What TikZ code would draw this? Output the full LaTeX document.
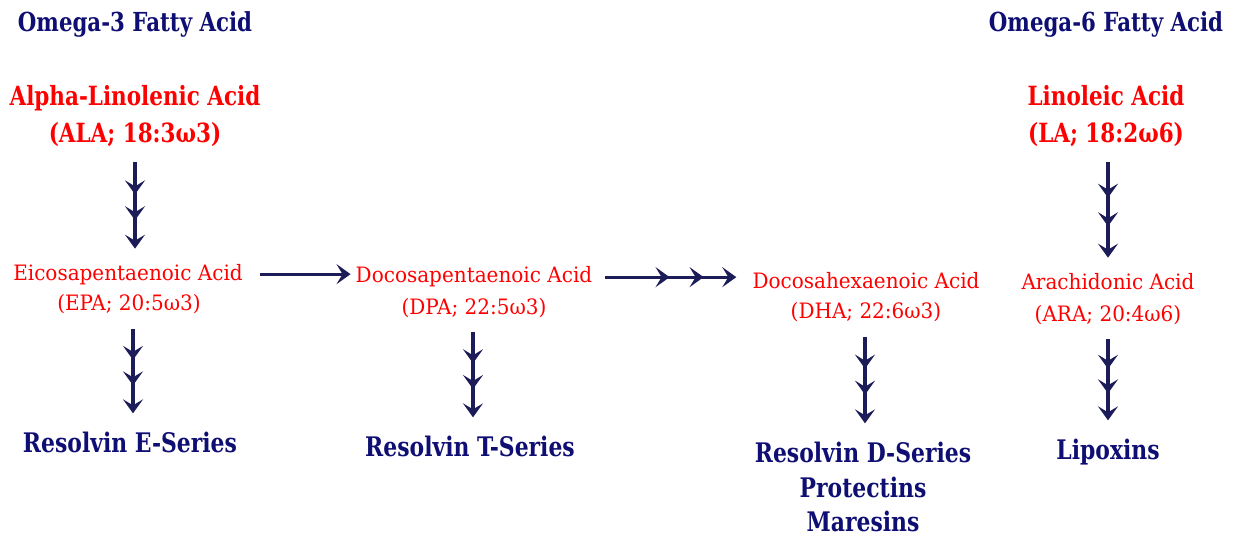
\documentclass[tikz,border=0pt]{standalone}
\usepackage{fontspec}
\usepackage{graphicx}
\setmainfont{DejaVu Serif}
\usetikzlibrary{arrows.meta,decorations.markings,calc}
\definecolor{navytext}{RGB}{15,15,115}
\definecolor{arrowcol}{RGB}{28,28,88}
\definecolor{redtext}{RGB}{255,0,0}
\newcommand\vsbig[1]{\scalebox{1}[1.23]{#1}}
\newcommand\vssmall[1]{\scalebox{1}[1.06]{#1}}
\begin{document}
\begin{tikzpicture}[x=1pt,y=-1pt,
  lbl/.style={inner sep=0pt, anchor=base},
  headtxt/.style={lbl, text=navytext, font=\bfseries\fontsize{21.3}{24}\selectfont},
  bigred/.style={lbl, text=redtext, font=\bfseries\fontsize{21.5}{26}\selectfont},
  smallred/.style={lbl, text=redtext, font=\fontsize{20}{23}\selectfont},
  prodtxt/.style={lbl, text=navytext, font=\bfseries\fontsize{21.9}{26}\selectfont},
  conn/.style={draw=arrowcol, line width=3.2pt,
    -{Stealth[length=14pt,width=20pt,inset=6pt]}},
  midtip/.style 2 args={postaction={decorate}, decoration={markings,
    mark=at position #1 with {\arrow{Stealth[length=14pt,width=20pt,inset=6pt]}},
    mark=at position #2 with {\arrow{Stealth[length=14pt,width=20pt,inset=6pt]}}}},
  tri/.style={conn, midtip={0.37}{0.67}}
]
\useasboundingbox (0,0) rectangle (1243,540);

% headings
\node[headtxt] (om3) at (135,32) {\vsbig{Omega-3 Fatty Acid}};
\node[headtxt] (om6) at (1106,32) {\vsbig{Omega-6 Fatty Acid}};

% precursors
\node[bigred] (ala1) at (135,106) {\vsbig{Alpha-Linolenic Acid}};
\node[bigred] (ala2) at (135,143) {\vsbig{(ALA; 18:3ω3)}};
\node[bigred] (la1) at (1106,106) {\vsbig{Linoleic Acid}};
\node[bigred] (la2) at (1106,143) {\vsbig{(LA; 18:2ω6)}};

% intermediates
\node[smallred] (epa1) at (128,280) {\vssmall{Eicosapentaenoic Acid}};
\node[smallred] (epa2) at (129,311) {\vssmall{(EPA; 20:5ω3)}};
\node[smallred] (dpa1) at (474,283) {\vssmall{Docosapentaenoic Acid}};
\node[smallred] (dpa2) at (474,314) {\vssmall{(DPA; 22:5ω3)}};
\node[smallred] (dha1) at (866,288) {\vssmall{Docosahexaenoic Acid}};
\node[smallred] (dha2) at (866,319) {\vssmall{(DHA; 22:6ω3)}};
\node[smallred] (ara1) at (1108,290) {\vssmall{Arachidonic Acid}};
\node[smallred] (ara2) at (1108,321) {\vssmall{(ARA; 20:4ω6)}};

% products
\node[prodtxt] (rese) at (130,452) {\vsbig{Resolvin E-Series}};
\node[prodtxt] (rest) at (470,456) {\vsbig{Resolvin T-Series}};
\node[prodtxt] (resd) at (863,462) {\vsbig{Resolvin D-Series}};
\node[prodtxt] (prot) at (863,497) {\vsbig{Protectins}};
\node[prodtxt] (mare) at (863,531) {\vsbig{Maresins}};
\node[prodtxt] (lipo) at (1108,459) {\vsbig{Lipoxins}};

% vertical triple arrows
\draw[tri] ($(ala2.south)+(0,15)$) -- ($(ala2.south |- epa1.north)+(0,-15)$);
\draw[tri] ($(epa2.south)+(4,14)$) -- ($(epa2.south |- rese.north)+(4,-18)$);
\draw[tri] ($(dpa2.south)+(-1,14)$) -- ($(dpa2.south |- rest.north)+(-1,-18)$);
\draw[tri] ($(dha2.south)+(-1,14)$) -- ($(dha2.south |- resd.north)+(-1,-18)$);
\draw[tri] ($(la2.south)+(2,15)$) -- ($(la2.south |- ara1.north)+(2,-16)$);
\draw[tri] ($(ara2.south)+(0,14)$) -- ($(ara2.south |- lipo.north)+(0,-18)$);

% horizontal arrows
\draw[conn] ($(epa1.east)+(17,0)$) -- ($(dpa1.west |- epa1.east)+(-5,0)$);
\draw[conn, midtip={0.49}{0.75}] ($(dpa1.east)+(13,0)$) -- ($(dha1.west |- dpa1.east)+(-16,0)$);
\end{tikzpicture}
\end{document}
